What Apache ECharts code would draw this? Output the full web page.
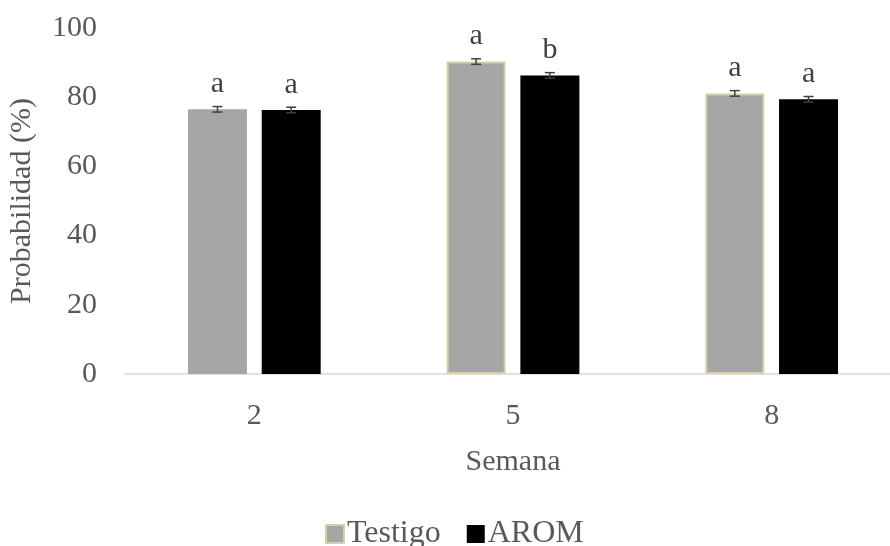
<!DOCTYPE html>
<html>
<head>
<meta charset="utf-8">
<script src="https://cdn.jsdelivr.net/npm/echarts@6/dist/echarts.min.js"></script>
<style>html,body{margin:0;padding:0;background:#fff}#c{width:890px;height:546px}</style>
</head>
<body>
<div id="c"></div>
<script>
var categories = ['2', '5', '8'];
var testigo = [76.5, 90.3, 81.1];
var arom = [76.3, 86.3, 79.4];
var testigoErr = [0.8, 0.8, 0.8];
var aromErr = [0.8, 0.8, 0.8];
var testigoLetters = ['a', 'a', 'a'];
var aromLetters = ['a', 'b', 'a'];
var yTicks = [0, 20, 40, 60, 80, 100];

var FONT = 'Liberation Serif';
var TXT = '#595959';
var BAR_W = 59;
var OFFSET = (BAR_W + BAR_W * 0.25) / 2;
var TAN = '#d8cfa6';

function errSeries(vals, errs, dx) {
  return {
    type: 'custom',
    silent: true,
    z: 5,
    data: vals.map(function (v, i) { return [i, v, errs[i]]; }),
    renderItem: function (params, api) {
      var i = api.value(0), v = api.value(1), e = api.value(2);
      var hi = api.coord([i, v + e]);
      var lo = api.coord([i, v - e]);
      var x = hi[0] + dx;
      var cap = 5;
      var st = { stroke: '#404040', lineWidth: 1.5 };
      return {
        type: 'group',
        children: [
          { type: 'line', shape: { x1: x, y1: hi[1], x2: x, y2: lo[1] }, style: st },
          { type: 'line', shape: { x1: x - cap, y1: hi[1], x2: x + cap, y2: hi[1] }, style: st },
          { type: 'line', shape: { x1: x - cap, y1: lo[1], x2: x + cap, y2: lo[1] }, style: st }
        ]
      };
    }
  };
}

var chart = echarts.init(document.getElementById('c'));
chart.setOption({
  animation: false,
  textStyle: { fontFamily: FONT },
  grid: { left: 125, width: 776, top: 28, bottom: 172, containLabel: false, outerBoundsMode: 'none' },
  legend: {
    left: 320,
    top: 513,
    itemWidth: 18,
    itemHeight: 18,
    itemGap: 26,
    icon: 'rect',
    textStyle: { fontFamily: FONT, fontSize: 32, color: TXT, padding: [0, 0, 0, -2] },
    data: [
      { name: 'Testigo', itemStyle: { borderColor: TAN, borderWidth: 2 } },
      { name: 'AROM' }
    ]
  },
  xAxis: {
    type: 'category',
    data: categories,
    name: 'Semana',
    nameLocation: 'middle',
    nameGap: 73,
    nameTextStyle: { fontFamily: FONT, fontSize: 30, color: TXT },
    axisLine: { lineStyle: { color: '#d9d9d9', width: 1.5 } },
    axisTick: { show: false },
    axisLabel: { fontFamily: FONT, fontSize: 30, color: TXT, margin: 27 }
  },
  yAxis: {
    type: 'value',
    min: 0,
    max: 100,
    interval: 20,
    name: 'Probabilidad (%)',
    nameLocation: 'middle',
    nameGap: 88,
    nameTextStyle: { fontFamily: FONT, fontSize: 30, color: TXT },
    axisLine: { show: false },
    axisTick: { show: false },
    splitLine: { show: false },
    axisLabel: {
      fontFamily: FONT, fontSize: 30, color: TXT, margin: 28,
      formatter: function (v) { return yTicks.indexOf(v) >= 0 ? String(v) : ''; }
    }
  },
  series: [
    {
      name: 'Testigo',
      type: 'bar',
      barWidth: BAR_W,
      barGap: '25%',
      itemStyle: { color: '#a6a6a6' },
      data: testigo.map(function (v, i) {
        return {
          value: v,
          itemStyle: i === 0 ? { borderWidth: 0 } : { borderColor: TAN, borderWidth: 2 }
        };
      }),
      label: {
        show: true, position: 'top', distance: 10,
        fontFamily: FONT, fontSize: 30, color: '#404040',
        formatter: function (p) { return testigoLetters[p.dataIndex]; }
      }
    },
    {
      name: 'AROM',
      type: 'bar',
      barWidth: BAR_W,
      barGap: '25%',
      itemStyle: { color: '#000000' },
      data: arom,
      label: {
        show: true, position: 'top', distance: 10,
        fontFamily: FONT, fontSize: 30, color: '#404040',
        formatter: function (p) { return aromLetters[p.dataIndex]; }
      }
    },
    errSeries(testigo, testigoErr, -OFFSET),
    errSeries(arom, aromErr, OFFSET)
  ]
});
</script>
</body>
</html>
